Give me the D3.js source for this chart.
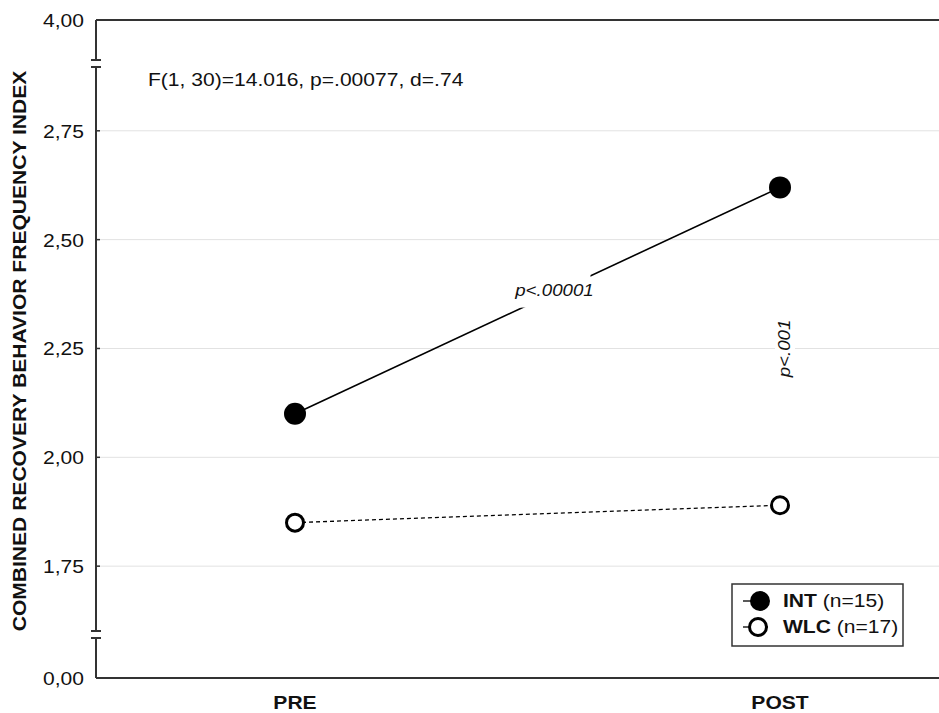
<!DOCTYPE html>
<html>
<head>
<meta charset="utf-8">
<script src="https://cdnjs.cloudflare.com/ajax/libs/d3/7.8.5/d3.min.js"></script>
<style>
  body { margin: 0; background: #fff; }
  text { font-family: "Liberation Sans", Arial, sans-serif; fill: #111; }
</style>
</head>
<body>
<div id="chart"></div>
<script>
// data
var times = ["PRE", "POST"];
var groups = ["INT", "WLC"];
var groupN = ["(n=15)", "(n=17)"];
var intValues = [2.10, 2.62];
var wlcValues = [1.85, 1.89];
var yTicks = [0, 1.75, 2.00, 2.25, 2.50, 2.75, 4.00];
var gridTicks = [1.75, 2.00, 2.25, 2.50, 2.75];

var width = 939, height = 713;
var SX = 1.17; // the original font renders wider than Liberation Sans

var svg = d3.select("#chart").append("svg")
    .attr("width", width)
    .attr("height", height);

// put a text at x,y, optionally rotated, stretched horizontally
var place = function(sel, px, py, rot) {
  return sel.attr("transform", "translate(" + px + "," + py + ")" + (rot ? " rotate(" + rot + ")" : "") + " scale(" + SX + ",1)");
}

// x axis: categorical points
var x = d3.scalePoint()
    .domain(times)
    .range([295, 780]);

// broken y axis: piecewise linear, 0 at bottom, 4 at top
var y = d3.scaleLinear()
    .domain([0, 1.585, 2.908, 4])
    .range([678, 638, 62, 20]);

var left = 96, right = 939;

// gridlines
svg.selectAll(".grid")
    .data(gridTicks)
  .enter().append("line")
    .attr("class", "grid")
    .attr("x1", left).attr("x2", right)
    .attr("y1", function(d) { return y(d) })
    .attr("y2", function(d) { return y(d) })
    .attr("stroke", "#e2e2e2")
    .attr("stroke-width", 1);

// top frame line at 4,00
svg.append("line")
    .attr("x1", left).attr("x2", right)
    .attr("y1", y(4)).attr("y2", y(4))
    .attr("stroke", "#333").attr("stroke-width", 2);

// bottom axis line
svg.append("line")
    .attr("x1", left).attr("x2", right)
    .attr("y1", y(0)).attr("y2", y(0))
    .attr("stroke", "#333").attr("stroke-width", 2);

// y axis line in three pieces with break marks
var segs = [[678, 638], [631, 67], [60, 20]];
svg.selectAll(".yseg")
    .data(segs)
  .enter().append("line")
    .attr("x1", left).attr("x2", left)
    .attr("y1", function(d) { return d[0] })
    .attr("y2", function(d) { return d[1] })
    .attr("stroke", "#333").attr("stroke-width", 2);

var breaks = [638, 631, 67, 60];
svg.selectAll(".brk")
    .data(breaks)
  .enter().append("line")
    .attr("x1", left - 5).attr("x2", left + 5)
    .attr("y1", function(d) { return d })
    .attr("y2", function(d) { return d })
    .attr("stroke", "#333").attr("stroke-width", 2);

// small inside ticks
svg.selectAll(".ytick")
    .data(gridTicks)
  .enter().append("line")
    .attr("x1", left).attr("x2", left + 4)
    .attr("y1", function(d) { return y(d) })
    .attr("y2", function(d) { return y(d) })
    .attr("stroke", "#333").attr("stroke-width", 1.5);

// y tick labels
svg.selectAll(".ylab")
    .data(yTicks)
  .enter().append("text")
    .each(function(d) { place(d3.select(this), 84, y(d) + 7) })
    .attr("text-anchor", "end")
    .attr("font-size", 18)
    .text(function(d) { return d.toFixed(2).replace(".", ",") });

// x labels
svg.selectAll(".xlab")
    .data(times)
  .enter().append("text")
    .each(function(d) { place(d3.select(this), x(d), 709) })
    .attr("text-anchor", "middle")
    .attr("font-size", 18)
    .attr("font-weight", "bold")
    .text(function(d) { return d });

// y axis title
place(svg.append("text"), 26, 351, -90)
    .attr("text-anchor", "middle")
    .attr("font-size", 18)
    .attr("font-weight", "bold")
    .text("COMBINED RECOVERY BEHAVIOR FREQUENCY INDEX");

// stats text
place(svg.append("text"), 148, 86)
    .attr("font-size", 18)
    .text("F(1, 30)=14.016, p=.00077, d=.74");

var line = d3.line()
    .x(function(d, i) { return x(times[i]) })
    .y(function(d) { return y(d) });

// WLC dashed line
svg.append("path")
    .datum(wlcValues)
    .attr("d", line)
    .attr("fill", "none")
    .attr("stroke", "#000")
    .attr("stroke-width", 1.3)
    .attr("stroke-dasharray", "4,3");

// INT solid line
svg.append("path")
    .datum(intValues)
    .attr("d", line)
    .attr("fill", "none")
    .attr("stroke", "#000")
    .attr("stroke-width", 1.6);

// annotation on the INT line, with white background
var mx = (x("PRE") + x("POST")) / 2, my = (y(intValues[0]) + y(intValues[1])) / 2;
var ann1 = svg.append("g").attr("transform", "translate(" + (mx + 17) + "," + (my - 11) + ")");
ann1.append("rect")
    .attr("x", -36).attr("y", -15).attr("width", 72).attr("height", 33)
    .attr("fill", "#fff");
place(ann1.append("text"), 0, 6)
    .attr("text-anchor", "middle")
    .attr("font-size", 16)
    .attr("font-style", "italic")
    .text("p<.00001");

// rotated annotation between POST points
var ann2 = svg.append("g").attr("transform", "translate(" + (x("POST") + 5) + "," + y(2.25) + ") rotate(-90)");
ann2.append("rect")
    .attr("x", -32).attr("y", -10).attr("width", 64).attr("height", 20)
    .attr("fill", "#fff");
place(ann2.append("text"), 0, 5)
    .attr("text-anchor", "middle")
    .attr("font-size", 16)
    .attr("font-style", "italic")
    .text("p<.001");

// markers
svg.selectAll(".intdot")
    .data(intValues)
  .enter().append("circle")
    .attr("cx", function(d, i) { return x(times[i]) })
    .attr("cy", function(d) { return y(d) })
    .attr("r", 11)
    .attr("fill", "#000");

svg.selectAll(".wlcdot")
    .data(wlcValues)
  .enter().append("circle")
    .attr("cx", function(d, i) { return x(times[i]) })
    .attr("cy", function(d) { return y(d) })
    .attr("r", 8.5)
    .attr("fill", "#fff")
    .attr("stroke", "#000")
    .attr("stroke-width", 3);

// legend
var lg = svg.append("g").attr("transform", "translate(732,584)");
lg.append("rect")
    .attr("width", 171).attr("height", 62)
    .attr("fill", "#fff")
    .attr("stroke", "#333").attr("stroke-width", 1.5);

groups.forEach(function(g, i) {
  var row = lg.append("g").attr("transform", "translate(0," + (17 + i * 26) + ")");
  row.append("line")
      .attr("x1", 11).attr("x2", 36)
      .attr("stroke", "#000").attr("stroke-width", 1.3);
  if (i === 0) {
    row.append("circle").attr("cx", 28).attr("r", 10).attr("fill", "#000");
  } else {
    row.append("circle").attr("cx", 26).attr("r", 8.5)
        .attr("fill", "#fff").attr("stroke", "#000").attr("stroke-width", 3);
  }
  var t = place(row.append("text"), 51, 6)
      .attr("font-size", 18);
  t.append("tspan").attr("font-weight", "bold").text(g + " ");
  t.append("tspan").text(groupN[i]);
});
</script>
</body>
</html>
